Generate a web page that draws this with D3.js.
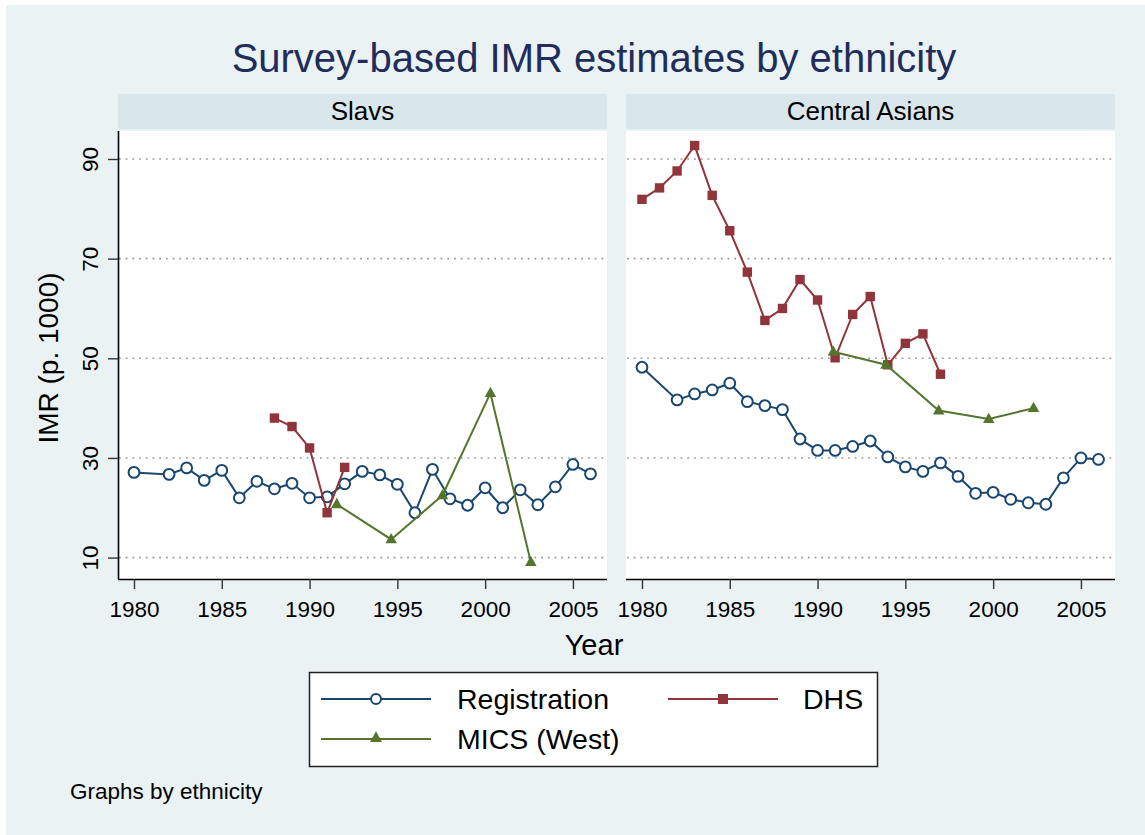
<!DOCTYPE html>
<html>
<head>
<meta charset="utf-8">
<script src="https://cdn.jsdelivr.net/npm/d3@7"></script>
<style>
  html, body { margin: 0; padding: 0; background: #ffffff; }
  svg text { font-family: "Liberation Sans", Arial, Helvetica, sans-serif; }
</style>
</head>
<body>
<svg id="chart" width="1145" height="835"></svg>
<script>
// ---------------- DATA ----------------
const panels = ["Slavs", "Central Asians"];
const seriesNames = ["Registration", "DHS", "MICS (West)"];
const xTicks = [1980, 1985, 1990, 1995, 2000, 2005];
const yTicks = [10, 30, 50, 70, 90];

// Slavs
const slavsRegYears  = [1980, 1982, 1983, 1984, 1985, 1986, 1987, 1988, 1989, 1990, 1991, 1992, 1993, 1994, 1995, 1996, 1997, 1998, 1999, 2000, 2001, 2002, 2003, 2004, 2005, 2006];
const slavsRegValues = [27.1, 26.7, 28.0, 25.5, 27.5, 22.0, 25.3, 23.8, 24.9, 22.0, 22.2, 24.8, 27.3, 26.6, 24.7, 19.0, 27.7, 21.8, 20.5, 24.0, 20.0, 23.6, 20.6, 24.2, 28.7, 26.8];
const slavsDhsYears  = [1988, 1989, 1990, 1991, 1992];
const slavsDhsValues = [38.0, 36.3, 32.0, 19.0, 28.1];
const slavsMicsYears  = [1991.55, 1994.65, 1997.57, 2000.3, 2002.6];
const slavsMicsValues = [20.7, 13.65, 22.5, 43.0, 9.1];

// Central Asians
const caRegYears  = [1980, 1982, 1983, 1984, 1985, 1986, 1987, 1988, 1989, 1990, 1991, 1992, 1993, 1994, 1995, 1996, 1997, 1998, 1999, 2000, 2001, 2002, 2003, 2004, 2005, 2006];
const caRegValues = [48.2, 41.65, 42.85, 43.65, 45.0, 41.3, 40.5, 39.7, 33.8, 31.5, 31.5, 32.3, 33.4, 30.2, 28.2, 27.3, 29.0, 26.3, 22.9, 23.1, 21.7, 21.0, 20.7, 26.0, 30.0, 29.7];
const caDhsYears  = [1980, 1981, 1982, 1983, 1984, 1985, 1986, 1987, 1988, 1989, 1990, 1991, 1992, 1993, 1994, 1995, 1996, 1997];
const caDhsValues = [81.9, 84.2, 87.6, 92.7, 82.7, 75.6, 67.3, 57.6, 60.0, 65.8, 61.7, 50.1, 58.8, 62.4, 48.7, 53.0, 54.9, 46.8];
const caMicsYears  = [1990.9, 1993.9, 1996.9, 1999.75, 2002.3];
const caMicsValues = [51.3, 48.7, 39.5, 37.8, 40.0];

// ---------------- STYLE ----------------
const colors = { "Registration": "#1a476f", "DHS": "#90353b", "MICS (West)": "#55752f" };
const bgOuter = "#eaf2f3";
const stripFill = "#d9e6eb";

const svg = d3.select("#chart");

svg.append("rect").attr("x", 0).attr("y", 0).attr("width", 1145).attr("height", 835).attr("fill", "#ffffff");
svg.append("rect").attr("x", 6).attr("y", 5).attr("width", 1139).attr("height", 830).attr("fill", bgOuter);

// Title
svg.append("text")
  .attr("x", 594).attr("y", 72)
  .attr("text-anchor", "middle")
  .attr("font-size", 40)
  .attr("fill", "#1f2d5a")
  .text("Survey-based IMR estimates by ethnicity");

// Panel geometry
const panelLefts = [118, 626];
const panelWidth = 489;
const plotTop = 131, plotBottom = 579;
const stripTop = 94;

const y = d3.scaleLinear().domain([5.7, 95.62]).range([plotBottom, plotTop]);

function makeX(left) {
  return d3.scaleLinear().domain([1979.09, 2006.94]).range([left, left + panelWidth]);
}

const panelData = [
  { reg: [slavsRegYears, slavsRegValues], dhs: [slavsDhsYears, slavsDhsValues], mics: [slavsMicsYears, slavsMicsValues] },
  { reg: [caRegYears, caRegValues], dhs: [caDhsYears, caDhsValues], mics: [caMicsYears, caMicsValues] }
];

const zip = (a) => a[0].map((yr, i) => ({ x: yr, v: a[1][i] }));

const triPath = (s) => {
  const h = s * 0.9;
  return `M0,${-h * 0.62}L${s / 2},${h * 0.38}L${-s / 2},${h * 0.38}Z`;
};

panels.forEach((name, pi) => {
  const left = panelLefts[pi];
  const x = makeX(left);
  const g = svg.append("g");

  // strip
  g.append("rect").attr("x", left).attr("y", stripTop).attr("width", panelWidth).attr("height", plotTop - stripTop - 2).attr("fill", stripFill);
  g.append("text").attr("x", left + panelWidth / 2).attr("y", 120).attr("text-anchor", "middle")
    .attr("font-size", 26).attr("fill", "#000").text(name);

  // plot region
  g.append("rect").attr("x", left).attr("y", plotTop).attr("width", panelWidth).attr("height", plotBottom - plotTop).attr("fill", "#ffffff");

  // grid
  g.selectAll(".grid").data(yTicks).enter().append("line")
    .attr("x1", left + 1).attr("x2", left + panelWidth)
    .attr("y1", d => y(d)).attr("y2", d => y(d))
    .attr("stroke", "#9a9a9a").attr("stroke-width", 1.6)
    .attr("stroke-dasharray", "1.8,4.9");

  // x axis
  const xAxis = d3.axisBottom(x).tickValues(xTicks).tickFormat(d3.format("d")).tickSize(10).tickSizeOuter(0).tickPadding(6);
  const xa = g.append("g").attr("transform", `translate(0,${plotBottom})`).call(xAxis);
  xa.select(".domain").attr("stroke", "#000").attr("stroke-width", 1.6)
    .attr("d", `M${left},0.5H${left + panelWidth}`);
  xa.selectAll(".tick line").attr("stroke", "#333").attr("stroke-width", 1.4);
  xa.selectAll(".tick text").attr("font-size", 22.5).attr("fill", "#000")
    .attr("font-family", '"Liberation Sans", Arial, sans-serif').attr("dy", "0").attr("y", 38);

  // y axis (left panel only)
  if (pi === 0) {
    const yAxis = d3.axisLeft(y).tickValues(yTicks).tickSize(10).tickSizeOuter(0).tickFormat(d3.format("d"));
    const ya = g.append("g").attr("transform", `translate(${left},0)`).call(yAxis);
    ya.select(".domain").attr("stroke", "#000").attr("stroke-width", 1.6)
      .attr("d", `M0.5,${plotTop}V${plotBottom}`);
    ya.selectAll(".tick line").attr("stroke", "#333").attr("stroke-width", 1.4);
    ya.selectAll(".tick text")
      .attr("font-size", 22.5).attr("fill", "#000")
      .attr("font-family", '"Liberation Sans", Arial, sans-serif')
      .attr("x", null).attr("dy", null)
      .attr("text-anchor", "middle")
      .attr("transform", "translate(-20,0) rotate(-90)");
  }

  const line = d3.line().x(d => x(d.x)).y(d => y(d.v));
  const pd = panelData[pi];

  // Registration
  const reg = zip(pd.reg);
  g.append("path").datum(reg).attr("d", line).attr("fill", "none")
    .attr("stroke", colors["Registration"]).attr("stroke-width", 2);
  g.selectAll(".reg").data(reg).enter().append("circle")
    .attr("cx", d => x(d.x)).attr("cy", d => y(d.v)).attr("r", 5.4)
    .attr("fill", "#fff").attr("stroke", colors["Registration"]).attr("stroke-width", 2);

  // DHS
  const dhs = zip(pd.dhs);
  g.append("path").datum(dhs).attr("d", line).attr("fill", "none")
    .attr("stroke", colors["DHS"]).attr("stroke-width", 2);
  g.selectAll(".dhs").data(dhs).enter().append("rect")
    .attr("x", d => x(d.x) - 4.7).attr("y", d => y(d.v) - 4.7).attr("width", 9.4).attr("height", 9.4)
    .attr("fill", colors["DHS"]);

  // MICS
  const mics = zip(pd.mics);
  g.append("path").datum(mics).attr("d", line).attr("fill", "none")
    .attr("stroke", colors["MICS (West)"]).attr("stroke-width", 2);
  g.selectAll(".mics").data(mics).enter().append("path")
    .attr("transform", d => `translate(${x(d.x)},${y(d.v)})`)
    .attr("d", triPath(11.5))
    .attr("fill", colors["MICS (West)"]);
});

// Y axis title
svg.append("text")
  .attr("transform", "translate(58,358) rotate(-90)")
  .attr("text-anchor", "middle")
  .attr("font-size", 28).attr("fill", "#000")
  .text("IMR (p. 1000)");

// X axis title
svg.append("text")
  .attr("x", 594).attr("y", 655)
  .attr("text-anchor", "middle")
  .attr("font-size", 29).attr("fill", "#000")
  .text("Year");

// Legend
const lg = svg.append("g");
lg.append("rect").attr("x", 309.5).attr("y", 672.5).attr("width", 568).attr("height", 94)
  .attr("fill", "#fff").attr("stroke", "#222").attr("stroke-width", 1.5);

const legendItems = [
  { name: seriesNames[0], lx: 321, ly: 699, tx: 457 },
  { name: seriesNames[1], lx: 668, ly: 699, tx: 803 },
  { name: seriesNames[2], lx: 321, ly: 739, tx: 457 }
];
legendItems.forEach(it => {
  const c = colors[it.name];
  lg.append("line").attr("x1", it.lx).attr("x2", it.lx + 110).attr("y1", it.ly).attr("y2", it.ly)
    .attr("stroke", c).attr("stroke-width", 2.2);
  const mx = it.lx + 55;
  if (it.name === "Registration") {
    lg.append("circle").attr("cx", mx).attr("cy", it.ly).attr("r", 5).attr("fill", "#fff").attr("stroke", c).attr("stroke-width", 2);
  } else if (it.name === "DHS") {
    lg.append("rect").attr("x", mx - 5).attr("y", it.ly - 5).attr("width", 10).attr("height", 10).attr("fill", c);
  } else {
    lg.append("path").attr("transform", `translate(${mx},${it.ly - 1})`).attr("d", triPath(12)).attr("fill", c);
  }
  lg.append("text").attr("x", it.tx).attr("y", it.ly + 10).attr("font-size", 28.5).attr("fill", "#000").text(it.name);
});

// Note
svg.append("text").attr("x", 70).attr("y", 799).attr("font-size", 22.5).attr("fill", "#000").text("Graphs by ethnicity");
</script>
</body>
</html>
